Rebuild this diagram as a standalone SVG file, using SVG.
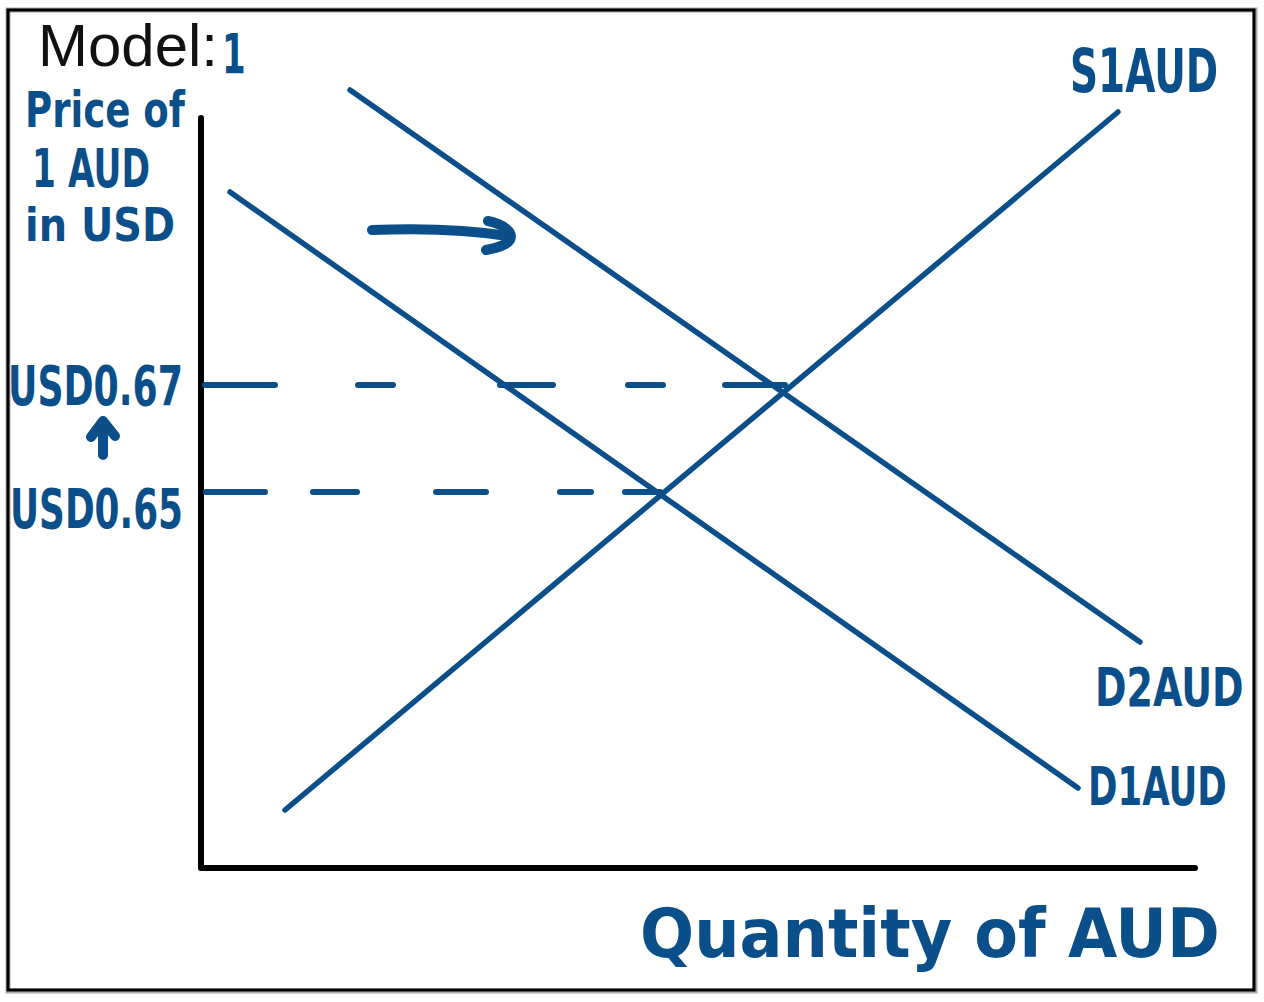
<svg xmlns="http://www.w3.org/2000/svg" width="1264" height="1002" viewBox="0 0 1264 1002">
<style>
.hand{font-family:"DejaVu Sans","Liberation Sans",sans-serif;font-weight:bold;fill:#0B4F8A}
.curve{stroke:#0B4F8A;stroke-width:5.5;fill:none;stroke-linecap:round}
.dash{stroke:#0B4F8A;stroke-width:6;fill:none;stroke-linecap:round}
.axis{stroke:#000;stroke-width:6;fill:none;stroke-linecap:round;stroke-linejoin:round}
.ink{stroke:#0B4F8A;stroke-width:10;fill:none;stroke-linecap:round;stroke-linejoin:round}
</style>
<rect x="0" y="0" width="1264" height="1002" fill="#fff"/>
<rect x="8" y="10" width="1247" height="981" fill="none" stroke="#aaa" stroke-width="5"/>
<rect x="8" y="10" width="1246" height="980" fill="none" stroke="#000" stroke-width="3"/>
<g id="title">
<text x="38" y="66" font-family="Liberation Sans, Arial, sans-serif" font-size="60" fill="#111" textLength="180" lengthAdjust="spacingAndGlyphs">Model:</text>
<text class="hand" transform="translate(222,73) scale(1,1.6)" x="0" y="0" font-size="34">1</text>
</g>
<g id="axes">
<path class="axis" d="M201,118 L201,868 L1195,868"/>
</g>
<g id="y-label">
<text class="hand" x="25" y="127" font-size="50" textLength="160" lengthAdjust="spacingAndGlyphs">Price of</text>
<text class="hand" x="32" y="187" font-size="54" textLength="118" lengthAdjust="spacingAndGlyphs">1 AUD</text>
<text class="hand" x="25" y="241" font-size="46" textLength="150" lengthAdjust="spacingAndGlyphs">in USD</text>
</g>
<g id="x-label">
<text class="hand" x="640" y="957" font-size="68" textLength="580" lengthAdjust="spacingAndGlyphs">Quantity of AUD</text>
</g>
<g id="price-labels">
<text class="hand" x="8" y="405" font-size="56" textLength="175" lengthAdjust="spacingAndGlyphs">USD0.67</text>
<path class="ink" d="M103,455 L103,421 M91,437 L103,421 L115,436" stroke-width="9"/>
<text class="hand" x="10" y="528" font-size="56" textLength="173" lengthAdjust="spacingAndGlyphs">USD0.65</text>
</g>
<g id="connectors">
<path class="dash" d="M205,385 L275,385 M358,385 L393,385 M500,385 L553,385 M628,385 L663,385 M725,385 L785,385"/>
<path class="dash" d="M206,492 L265,492 M313,492 L357,492 M436,492 L486,492 M560,492 L591,492 M625,492 L660,492"/>
</g>
<g id="S1">
<path class="curve" d="M285,810 L1118,112"/>
<text class="hand" transform="translate(1070,92) scale(1,1.54)" x="0" y="0" font-size="39">S1AUD</text>
</g>
<g id="D1">
<path class="curve" d="M230,192 L1078,788"/>
<text class="hand" transform="translate(1088,805) scale(1,1.52)" x="0" y="0" font-size="35.5">D1AUD</text>
</g>
<g id="D2">
<path class="curve" d="M350,90 L1140,642"/>
<text class="hand" transform="translate(1095,706) scale(1,1.42)" x="0" y="0" font-size="38">D2AUD</text>
</g>
<g id="shift-arrow">
<path class="ink" d="M372,230 C420,228 470,230 508,236"/>
<path class="ink" d="M488,221 C503,224 514,232 510,240 C506,246 496,248 486,250"/>
</g>
</svg>
